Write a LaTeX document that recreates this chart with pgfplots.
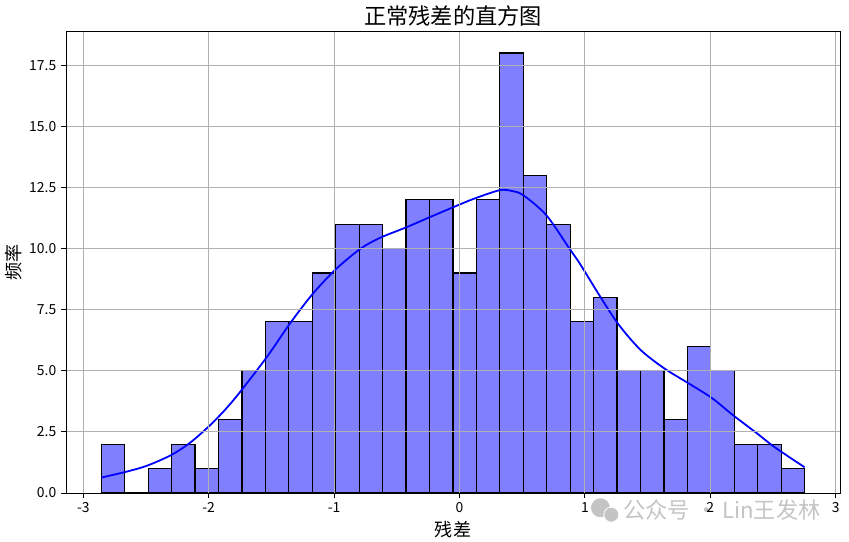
\documentclass[border=0pt]{standalone}
\usepackage{fontspec}
\setmainfont{Noto Sans CJK SC}
\usepackage{pgfplots}
\pgfplotsset{compat=1.18}
\definecolor{barfill}{HTML}{8080FF}
\definecolor{gridgray}{HTML}{B0B0B0}
\definecolor{wm}{HTML}{C4C4C4}

\begin{document}
\begin{tikzpicture}
\begin{axis}[
name=ax,
scale only axis,
width=557.3pt, height=332.6pt,
xmin=-3.138, xmax=3.035,
ymin=0, ymax=18.9,
clip=false,
xtick={-3,-2,-1,0,1,2,3},
ytick={0,2.5,5,7.5,10,12.5,15,17.5},
yticklabel style={/pgf/number format/.cd,fixed,fixed zerofill,precision=1},
/pgf/number format/assume math mode=true,
tick label style={font=\fontsize{10}{12}\selectfont},
tick align=outside, tick pos=left,
major tick length=3.5pt,
every tick/.style={black, line width=0.6pt},
axis line style={line width=0.6pt},
grid=major,
major grid style={gridgray, line width=0.6pt},
axis on top,
xlabel={残差}, ylabel={频率},
xlabel style={at={(axis description cs:0.5,-0.08)}, anchor=center, font=\fontsize{13}{15}\selectfont},
ylabel style={at={(axis description cs:-0.068,0.5)}, anchor=center, rotate=0, font=\fontsize{13}{15}\selectfont},
]
% histogram, 30 bins, left edges
\addplot[ybar interval, fill=barfill, draw=black, line width=0.85pt] coordinates {
(-2.857,2)(-2.670,0)(-2.483,1)(-2.296,2)(-2.109,1)(-1.922,3)
(-1.735,5)(-1.548,7)(-1.361,7)(-1.174,9)(-0.987,11)(-0.800,11)
(-0.613,10)(-0.426,12)(-0.239,12)(-0.052,9)(0.135,12)(0.322,18)
(0.509,13)(0.696,11)(0.883,7)(1.070,8)(1.257,5)(1.444,5)
(1.631,3)(1.818,6)(2.005,5)(2.192,2)(2.379,2)(2.566,1)(2.753,1)};
% kde
\addplot[blue, line width=1.3pt, smooth, tension=0.5, no markers] coordinates {
(-2.857,0.63)(-2.65,0.88)(-2.49,1.12)(-2.30,1.55)(-2.15,2.05)
(-2.0,2.72)(-1.87,3.40)(-1.744,4.17)(-1.531,5.60)(-1.351,6.94)
(-1.173,8.13)(-0.987,9.15)(-0.788,10.0)(-0.629,10.45)
(-0.424,10.87)(-0.239,11.28)(0.0,11.8)(0.137,12.08)
(0.322,12.39)(0.415,12.36)(0.507,12.19)(0.692,11.37)(0.877,10.0)
(0.963,9.36)(1.123,8.03)(1.268,6.90)(1.441,5.87)(1.627,5.12)
(1.813,4.53)(2.012,3.89)(2.18,3.19)(2.37,2.45)(2.515,1.87)
(2.753,1.05)};
\node[font=\fontsize{16}{18}\selectfont] at (axis description cs:0.5,1.033) {正常残差的直方图};
% watermark
\fill[wm] (axis description cs:0.6905,-0.032) circle[radius=6.8pt];
\fill[wm, draw=white, line width=0.6pt] (axis description cs:0.7045,-0.047) circle[radius=5.4pt];
\node[wm, font=\fontsize{16}{18}\selectfont] at (axis description cs:0.8475,-0.037) {公众号 · Lin王发林};
\end{axis}
\pgfresetboundingbox
\path (ax.south west) ++(-47.52pt,-35.28pt) rectangle ++(611.28pt,390.24pt);
\end{tikzpicture}
\end{document}
